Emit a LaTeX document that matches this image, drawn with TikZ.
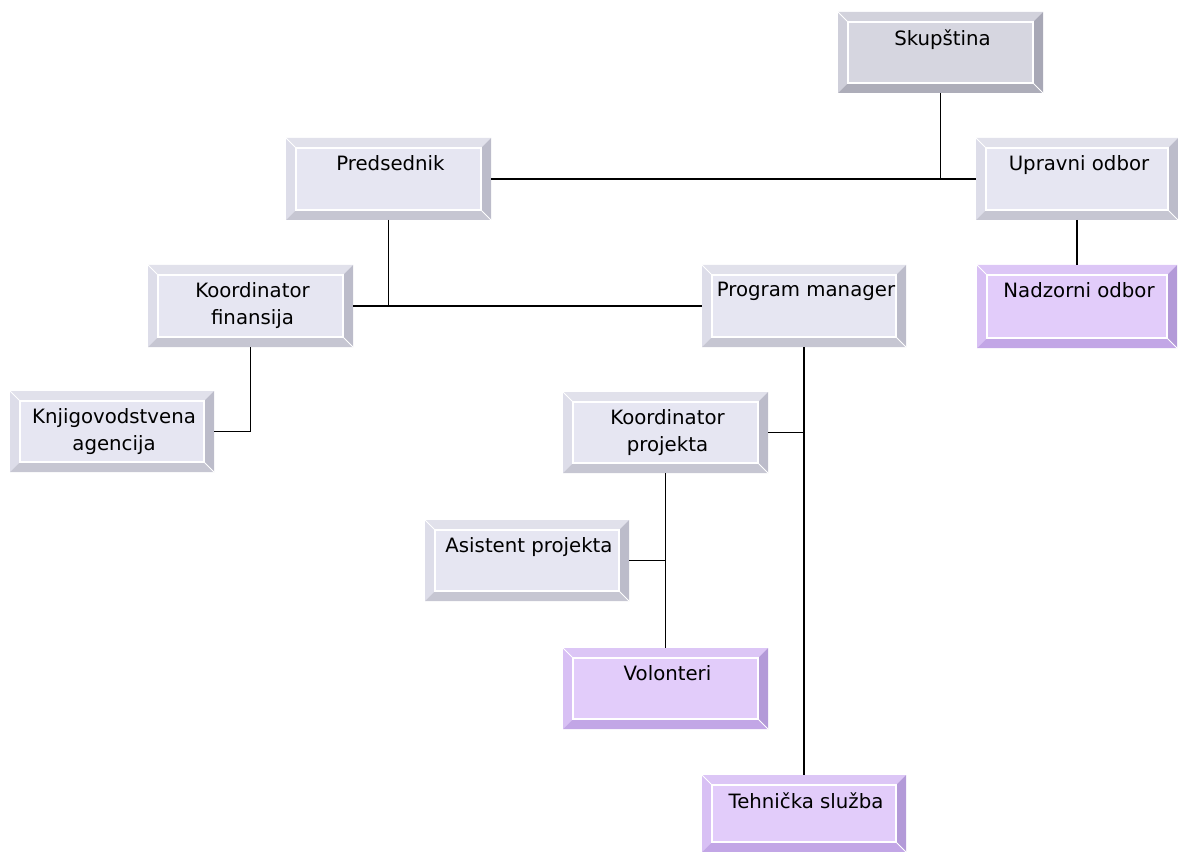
\documentclass[tikz,border=0pt]{standalone}
\usepackage{fontspec}
\setmainfont{DejaVu Sans}
\definecolor{gface}{HTML}{D6D6E0}
\definecolor{gtop}{HTML}{D2D2DC}
\definecolor{gleft}{HTML}{CFCFDA}
\definecolor{gright}{HTML}{A8A8B6}
\definecolor{gbottom}{HTML}{ADADB9}
\definecolor{lface}{HTML}{E6E6F2}
\definecolor{ltop}{HTML}{E1E1EB}
\definecolor{lleft}{HTML}{DDDDE9}
\definecolor{lright}{HTML}{BCBCCA}
\definecolor{lbottom}{HTML}{C6C6D2}
\definecolor{pface}{HTML}{E2CCFA}
\definecolor{ptop}{HTML}{DCC6F6}
\definecolor{pleft}{HTML}{D8C0F4}
\definecolor{pright}{HTML}{B39AD8}
\definecolor{pbottom}{HTML}{C2A6E6}
\tikzset{
  boxnode/.style={inner sep=0pt, outer sep=0pt, draw=none},
  lbl/.style={anchor=north, inner sep=0pt, align=center, font=\fontsize{14.8}{20.25}\selectfont},
  conn/.style={draw=black, line width=1.2pt},
  facerim/.style={draw=white, line width=0.9pt}
}
\newcommand\bbox[7]{%
  \node[boxnode, minimum width={(#4-#2)*0.75pt}, minimum height={(#5-#3)*0.75pt}] (#1) at ({(#2+#4)/2},{(#3+#5)/2}) {};
  \fill[#6face] ([shift={(10,10)}]#1.north west) rectangle ([shift={(-10,-10)}]#1.south east);
  \fill[#6top] (#1.north west) -- (#1.north east) -- ([shift={(-10,10)}]#1.north east) -- ([shift={(10,10)}]#1.north west) -- cycle;
  \fill[#6left] (#1.north west) -- ([shift={(10,10)}]#1.north west) -- ([shift={(10,-10)}]#1.south west) -- (#1.south west) -- cycle;
  \fill[#6right] (#1.north east) -- (#1.south east) -- ([shift={(-10,-10)}]#1.south east) -- ([shift={(-10,10)}]#1.north east) -- cycle;
  \fill[#6bottom] (#1.south west) -- ([shift={(10,-10)}]#1.south west) -- ([shift={(-10,-10)}]#1.south east) -- (#1.south east) -- cycle;
  \draw[facerim] ([shift={(10,10)}]#1.north west) rectangle ([shift={(-10,-10)}]#1.south east);
  \draw[white, line width=0.6pt] (#1.north west) -- ([shift={(10,10)}]#1.north west);
  \draw[white, line width=0.6pt] (#1.south east) -- ([shift={(-10,-10)}]#1.south east);
  \node[lbl] (#1-t) at ({(#2+#4)/2+2},{#3+17}) {#7};
}
\begin{document}
\begin{tikzpicture}[x=0.75pt, y=-0.75pt]
\useasboundingbox (0,0) rectangle (1178,852);
\bbox{sk}{838}{12}{1043}{93}{g}{Skupština}
\bbox{pr}{286}{138}{491}{220}{l}{Predsednik}
\bbox{up}{976}{138}{1178}{220}{l}{Upravni odbor}
\bbox{kf}{148}{265}{353}{347}{l}{Koordinator\\finansija}
\bbox{pm}{702}{265}{906}{347}{l}{Program manager}
\bbox{nz}{977}{265}{1177}{348}{p}{Nadzorni odbor}
\bbox{kn}{10}{391}{214}{472}{l}{Knjigovodstvena\\agencija}
\bbox{kp}{563}{392}{768}{473}{l}{Koordinator\\projekta}
\bbox{as}{425}{520}{629}{601}{l}{Asistent projekta}
\bbox{vo}{563}{648}{768}{729}{p}{Volonteri}
\bbox{th}{702}{775}{906}{852}{p}{Tehnička služba}
% connectors
\draw[conn] (pr.east) -- (up.west);
\draw[conn] (sk.south) -- (sk.south |- up.west);
\draw[conn] (kf.east) -- (pm.west);
\draw[conn] (pr.south) -- (pr.south |- kf.east);
\draw[conn] (up.south) -- (nz.north);
\draw[conn] (kf.south) |- (kn.east);
\draw[conn] (pm.south) -- (th.north);
\draw[conn] (kp.east) -- (kp.east -| pm.south);
\draw[conn] (kp.south) -- (vo.north);
\draw[conn] (as.east) -- (as.east -| kp.south);
\end{tikzpicture}
\end{document}
